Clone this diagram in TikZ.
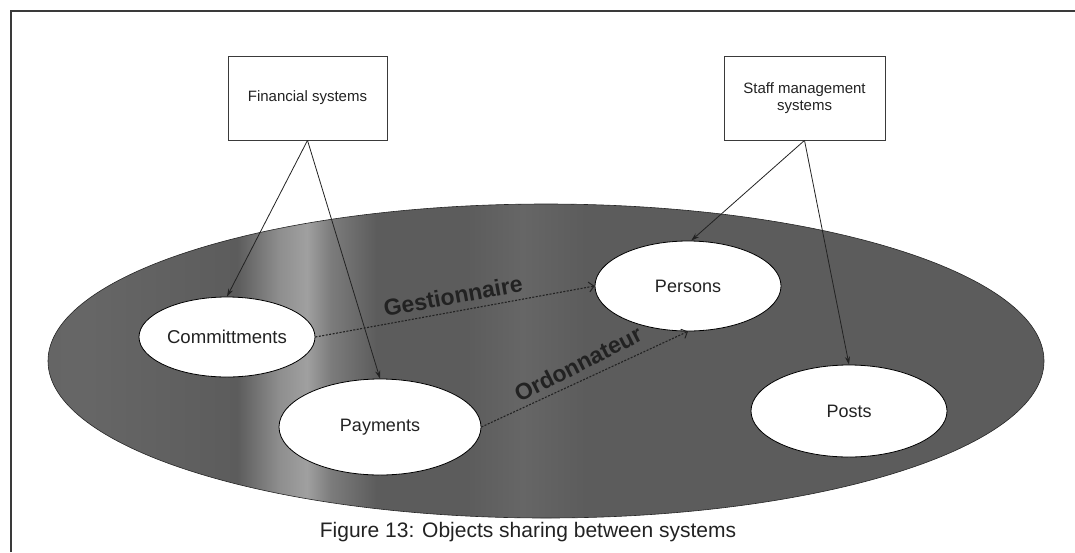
\documentclass[tikz,border=0pt]{standalone}
\usepackage{fontspec}
\setmainfont{Liberation Sans}
\usetikzlibrary{shapes.geometric,arrows.meta}

% grey tones of the shared-objects oval
\definecolor{ovD}{HTML}{5C5C5C}
\definecolor{ovDL}{HTML}{666666}
\definecolor{ovL}{HTML}{8E8E8E}
\definecolor{ovLL}{HTML}{A0A0A0}
\definecolor{ovM}{HTML}{7C7C7C}
\definecolor{ovS}{HTML}{666666}
\definecolor{ink}{HTML}{222222}
\definecolor{framec}{HTML}{3A3A3A}

% dark oval with a soft light band on its left part
\pgfdeclarehorizontalshading{ovalband}{100bp}{%
  color(0bp)=(ovD); color(27bp)=(ovDL); color(34.5bp)=(ovD);
  color(36.6bp)=(ovL); color(38bp)=(ovLL); color(39.2bp)=(ovM);
  color(41.5bp)=(ovD); color(46bp)=(ovD); color(48.8bp)=(ovS);
  color(52bp)=(ovD); color(100bp)=(ovD)}

\tikzset{
  sysbox/.style={draw=framec, line width=0.8pt, fill=white, inner sep=0pt,
    minimum width=159pt, minimum height=84pt, align=center, text=ink,
    font=\fontsize{15}{17}\selectfont},
  objoval/.style={ellipse, draw=black, line width=0.8pt, fill=white, inner sep=0pt,
    text=ink, font=\fontsize{18}{20}\selectfont},
  feed/.style={draw=ink, line width=0.8pt, -{Stealth[length=8pt,width=5pt]}},
  role/.style={draw=ink, line width=1.1pt, dash pattern=on 2pt off 1.5pt,
    -{Straight Barb[length=5pt,width=10pt,line width=1pt]}},
  rolelabel/.style={text=ink, font=\fontsize{23}{25}\selectfont\bfseries, inner sep=0pt},
  caption/.style={text=ink, font=\fontsize{21}{24}\selectfont, inner sep=0pt}
}

\begin{document}
\begin{tikzpicture}[x=1pt, y=-1pt]
  \useasboundingbox (0,0) rectangle (1075,552);

  % page frame (left and top rules)
  \draw[framec, line width=2pt] (10.5,552) -- (10.5,10.5) -- (1075,10.5);

  % shared objects area
  \shade[shading=ovalband] (546,361) ellipse [x radius=498, y radius=157];
  \draw[black!85, line width=0.6pt] (546,361) ellipse [x radius=498, y radius=157];

  % source systems
  \node[sysbox] (fin) at (307.5,98) {Financial systems};
  \node[sysbox, minimum width=161pt] (staff) at (804.5,98) {Staff management\\systems};

  % shared objects
  \node[objoval, minimum width=176pt, minimum height=80pt] (com) at (227,337)
    {\fontsize{18.6}{20}\selectfont Committments};
  \node[objoval, minimum width=202pt, minimum height=96pt] (pay) at (380,427) {Payments};
  \node[objoval, minimum width=186pt, minimum height=90pt] (per) at (688,286) {Persons};
  \node[objoval, minimum width=196pt, minimum height=92pt] (pos) at (849,411) {Posts};

  % systems feeding objects
  \draw[feed] (fin.south) -- (com.north);
  \draw[feed] (fin.south) -- (pay.north);
  \draw[feed] (staff.south) -- (per.86);
  \draw[feed] (staff.south) -- (pos.north);

  % roles linking objects to persons
  \draw[role] (com.east) -- (per.west);
  \draw[role] (pay.east) -- (per.south);
  \node[rolelabel, rotate=10.5] (gest) at (453,296) {Gestionnaire};
  \node[rolelabel, rotate=27] (ordo) at (578,364) {Ordonnateur};

  % caption
  \node[caption, anchor=base] (cap) at (528,537) {Figure 13: Objects sharing between systems};
\end{tikzpicture}
\end{document}
